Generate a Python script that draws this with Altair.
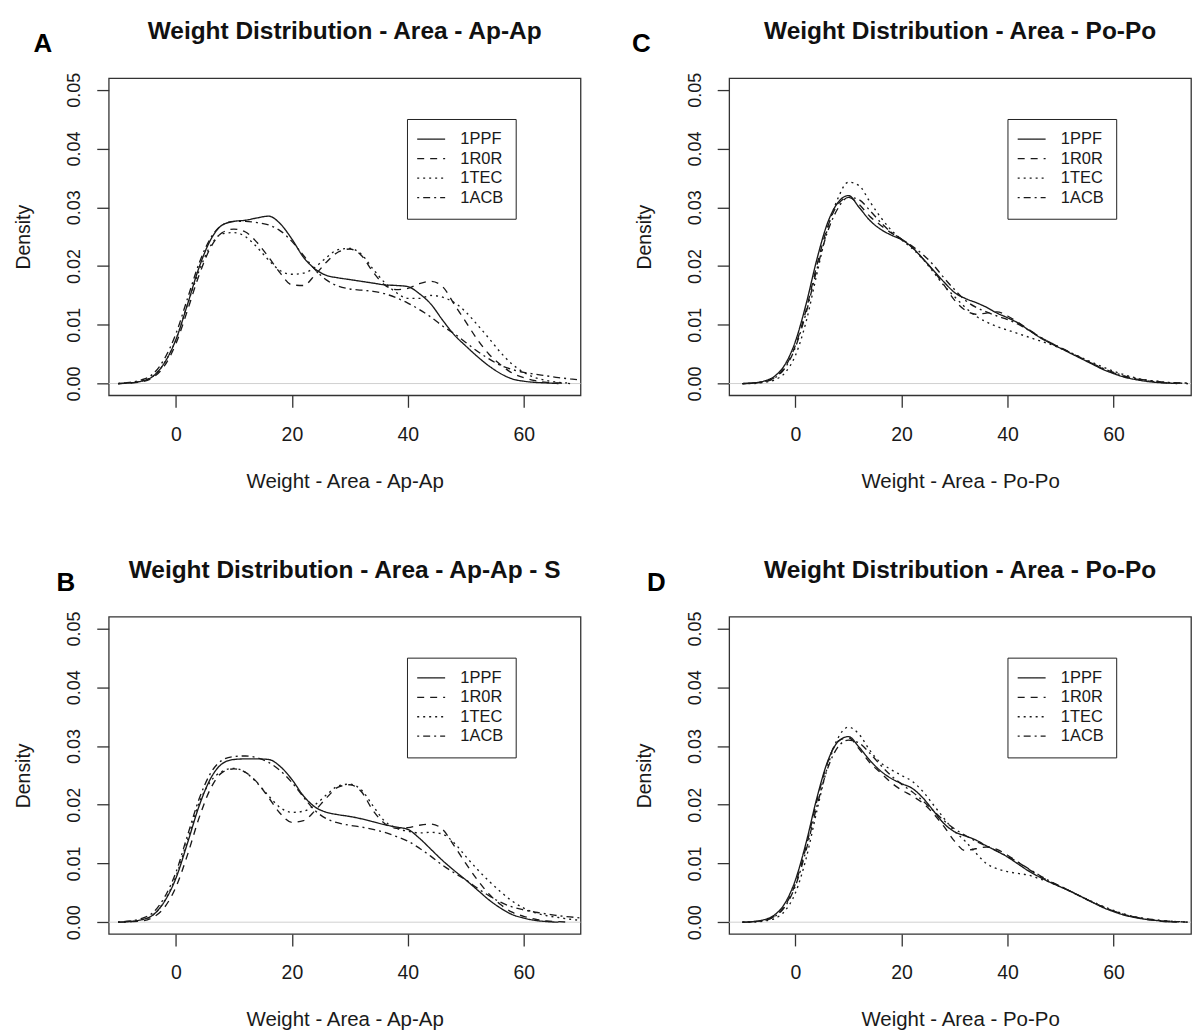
import altair as alt
import pandas as pd

SERIES = ["1PPF", "1R0R", "1TEC", "1ACB"]
DASHES = [[1, 0], [7, 6], [2, 4], [2, 4, 7, 4]]

X_TICKS = [0, 20, 40, 60]
Y_TICKS = [0.0, 0.01, 0.02, 0.03, 0.04, 0.05]

# ---------- Panels A / B (Ap-Ap) ----------
X_AB = [-10, -8, -6, -4, -2, 0, 2, 4, 6, 8,
        10, 12, 14, 16, 18, 20, 22, 24, 26, 28,
        30, 32, 34, 36, 38, 40, 42, 44, 46, 48,
        50, 52, 54, 56, 58, 60, 62, 64, 66, 68, 70]

A_1PPF = [0.0000, 0.0001, 0.0004, 0.0012, 0.0035, 0.0075, 0.0135, 0.0198, 0.0245, 0.0270,
          0.0276, 0.0278, 0.0282, 0.0285, 0.0272, 0.0246, 0.0215, 0.0195, 0.0184, 0.0180,
          0.0177, 0.0174, 0.0171, 0.0168, 0.0167, 0.0165, 0.0153, 0.0135, 0.0108, 0.0083,
          0.0064, 0.0046, 0.0030, 0.0017, 0.0008, 0.0004, 0.0002, 0.0001, 0.0000, None, None]
A_1R0R = [0.0000, 0.0001, 0.0003, 0.0010, 0.0030, 0.0068, 0.0125, 0.0185, 0.0232, 0.0257,
          0.0263, 0.0258, 0.0240, 0.0215, 0.0188, 0.0168, 0.0167, 0.0185, 0.0207, 0.0224,
          0.0229, 0.0218, 0.0190, 0.0168, 0.0160, 0.0162, 0.0170, 0.0174, 0.0165, 0.0135,
          0.0105, 0.0075, 0.0050, 0.0032, 0.0018, 0.0010, 0.0005, 0.0002, 0.0001, 0.0000, None]
A_1TEC = [0.0000, 0.0001, 0.0004, 0.0012, 0.0035, 0.0075, 0.0135, 0.0192, 0.0235, 0.0255,
          0.0257, 0.0250, 0.0232, 0.0210, 0.0192, 0.0186, 0.0188, 0.0198, 0.0215, 0.0228,
          0.0230, 0.0220, 0.0195, 0.0172, 0.0155, 0.0145, 0.0145, 0.0150, 0.0147, 0.0138,
          0.0122, 0.0100, 0.0077, 0.0053, 0.0033, 0.0019, 0.0010, 0.0005, 0.0002, 0.0001, None]
A_1ACB = [0.0000, 0.0002, 0.0006, 0.0016, 0.0042, 0.0085, 0.0145, 0.0205, 0.0248, 0.0270,
          0.0276, 0.0276, 0.0274, 0.0270, 0.0260, 0.0242, 0.0218, 0.0194, 0.0176, 0.0166,
          0.0161, 0.0159, 0.0157, 0.0153, 0.0146, 0.0137, 0.0126, 0.0113, 0.0098, 0.0085,
          0.0070, 0.0055, 0.0042, 0.0031, 0.0024, 0.0019, 0.0016, 0.0013, 0.0010, 0.0008, 0.0006]

B_1PPF = [0.0000, 0.0001, 0.0004, 0.0012, 0.0035, 0.0075, 0.0135, 0.0198, 0.0245, 0.0270,
          0.0277, 0.0278, 0.0278, 0.0277, 0.0265, 0.0243, 0.0215, 0.0196, 0.0187, 0.0183,
          0.0180, 0.0176, 0.0171, 0.0166, 0.0162, 0.0158, 0.0143, 0.0124, 0.0105, 0.0088,
          0.0072, 0.0055, 0.0038, 0.0024, 0.0013, 0.0007, 0.0003, 0.0001, 0.0000, None, None]
B_1R0R = [0.0000, 0.0001, 0.0002, 0.0008, 0.0025, 0.0060, 0.0115, 0.0178, 0.0228, 0.0255,
          0.0261, 0.0255, 0.0238, 0.0212, 0.0185, 0.0170, 0.0173, 0.0190, 0.0212, 0.0230,
          0.0234, 0.0222, 0.0190, 0.0168, 0.0160, 0.0161, 0.0165, 0.0167, 0.0158, 0.0130,
          0.0100, 0.0072, 0.0048, 0.0030, 0.0017, 0.0010, 0.0005, 0.0002, 0.0001, 0.0000, None]
B_1TEC = [0.0000, 0.0001, 0.0004, 0.0012, 0.0036, 0.0078, 0.0140, 0.0203, 0.0240, 0.0257,
          0.0262, 0.0255, 0.0237, 0.0215, 0.0195, 0.0187, 0.0189, 0.0200, 0.0217, 0.0232,
          0.0235, 0.0225, 0.0198, 0.0172, 0.0160, 0.0155, 0.0152, 0.0153, 0.0150, 0.0135,
          0.0112, 0.0090, 0.0070, 0.0052, 0.0036, 0.0024, 0.0016, 0.0011, 0.0008, 0.0005, 0.0003]
B_1ACB = [0.0000, 0.0002, 0.0006, 0.0016, 0.0042, 0.0085, 0.0148, 0.0210, 0.0254, 0.0276,
          0.0282, 0.0283, 0.0280, 0.0272, 0.0258, 0.0238, 0.0213, 0.0190, 0.0176, 0.0169,
          0.0165, 0.0162, 0.0158, 0.0153, 0.0146, 0.0138, 0.0126, 0.0112, 0.0097, 0.0084,
          0.0072, 0.0058, 0.0045, 0.0034, 0.0026, 0.0021, 0.0017, 0.0014, 0.0011, 0.0009, 0.0007]

# ---------- Panels C / D (Po-Po) ----------
X_CD = [-10, -8, -6, -4, -2, 0, 2, 4, 6, 8,
        10, 12, 14, 16, 18, 20, 22, 24, 26, 28,
        30, 32, 34, 36, 38, 40, 42, 44, 46, 48,
        50, 52, 54, 56, 58, 60, 62, 64, 66, 68,
        70, 72, 74]

C_1PPF = [0.0000, 0.0001, 0.0004, 0.0012, 0.0032, 0.0072, 0.0135, 0.0210, 0.0272, 0.0308,
          0.0320, 0.0300, 0.0278, 0.0263, 0.0253, 0.0245, 0.0232, 0.0213, 0.0193, 0.0173,
          0.0155, 0.0145, 0.0138, 0.0130, 0.0120, 0.0112, 0.0103, 0.0091, 0.0079, 0.0069,
          0.0060, 0.0051, 0.0042, 0.0033, 0.0024, 0.0017, 0.0011, 0.0007, 0.0004, 0.0002,
          0.0001, 0.0000, None]
C_1R0R = [0.0000, 0.0001, 0.0003, 0.0010, 0.0028, 0.0065, 0.0125, 0.0200, 0.0265, 0.0305,
          0.0317, 0.0305, 0.0285, 0.0270, 0.0257, 0.0246, 0.0232, 0.0213, 0.0192, 0.0168,
          0.0142, 0.0125, 0.0118, 0.0120, 0.0122, 0.0115, 0.0104, 0.0092, 0.0080, 0.0070,
          0.0061, 0.0052, 0.0043, 0.0034, 0.0025, 0.0018, 0.0012, 0.0008, 0.0005, 0.0003,
          0.0001, 0.0001, 0.0000]
C_1TEC = [0.0000, 0.0000, 0.0002, 0.0006, 0.0018, 0.0048, 0.0105, 0.0185, 0.0262, 0.0315,
          0.0343, 0.0337, 0.0310, 0.0284, 0.0262, 0.0245, 0.0230, 0.0212, 0.0190, 0.0167,
          0.0148, 0.0130, 0.0115, 0.0105, 0.0097, 0.0091, 0.0085, 0.0079, 0.0073, 0.0067,
          0.0060, 0.0052, 0.0044, 0.0036, 0.0028, 0.0021, 0.0015, 0.0010, 0.0006, 0.0004,
          0.0002, 0.0001, 0.0000]
C_1ACB = [0.0000, 0.0001, 0.0003, 0.0009, 0.0026, 0.0062, 0.0120, 0.0193, 0.0257, 0.0298,
          0.0317, 0.0313, 0.0295, 0.0275, 0.0258, 0.0246, 0.0234, 0.0220, 0.0202, 0.0180,
          0.0160, 0.0142, 0.0130, 0.0122, 0.0115, 0.0109, 0.0101, 0.0091, 0.0080, 0.0070,
          0.0061, 0.0052, 0.0043, 0.0034, 0.0026, 0.0019, 0.0013, 0.0009, 0.0006, 0.0004,
          0.0002, 0.0001, 0.0001]

D_1PPF = [0.0000, 0.0001, 0.0004, 0.0012, 0.0032, 0.0072, 0.0135, 0.0210, 0.0272, 0.0307,
          0.0316, 0.0298, 0.0276, 0.0258, 0.0245, 0.0236, 0.0228, 0.0212, 0.0190, 0.0168,
          0.0154, 0.0147, 0.0140, 0.0130, 0.0121, 0.0111, 0.0099, 0.0087, 0.0077, 0.0068,
          0.0060, 0.0052, 0.0043, 0.0034, 0.0025, 0.0018, 0.0012, 0.0008, 0.0005, 0.0003,
          0.0001, 0.0000, None]
D_1R0R = [0.0000, 0.0001, 0.0003, 0.0010, 0.0028, 0.0066, 0.0128, 0.0205, 0.0270, 0.0308,
          0.0314, 0.0295, 0.0272, 0.0255, 0.0238, 0.0225, 0.0215, 0.0203, 0.0185, 0.0163,
          0.0138, 0.0122, 0.0125, 0.0128, 0.0124, 0.0114, 0.0102, 0.0090, 0.0079, 0.0069,
          0.0061, 0.0052, 0.0043, 0.0034, 0.0026, 0.0019, 0.0013, 0.0009, 0.0005, 0.0003,
          0.0001, 0.0001, 0.0000]
D_1TEC = [0.0000, 0.0000, 0.0002, 0.0006, 0.0019, 0.0050, 0.0108, 0.0188, 0.0263, 0.0313,
          0.0332, 0.0320, 0.0293, 0.0272, 0.0260, 0.0250, 0.0240, 0.0223, 0.0200, 0.0177,
          0.0155, 0.0138, 0.0118, 0.0100, 0.0091, 0.0086, 0.0083, 0.0080, 0.0074, 0.0068,
          0.0060, 0.0052, 0.0043, 0.0035, 0.0027, 0.0020, 0.0014, 0.0009, 0.0006, 0.0003,
          0.0002, 0.0001, 0.0000]
D_1ACB = [0.0000, 0.0001, 0.0003, 0.0009, 0.0026, 0.0062, 0.0122, 0.0196, 0.0260, 0.0298,
          0.0310, 0.0305, 0.0288, 0.0268, 0.0250, 0.0235, 0.0222, 0.0207, 0.0190, 0.0173,
          0.0159, 0.0148, 0.0138, 0.0130, 0.0121, 0.0112, 0.0102, 0.0091, 0.0080, 0.0070,
          0.0061, 0.0052, 0.0043, 0.0034, 0.0026, 0.0019, 0.0013, 0.0009, 0.0006, 0.0004,
          0.0002, 0.0001, 0.0000]

FONT = "Liberation Sans, Arial, Helvetica, sans-serif"
INK = "#1a1a1a"


def long_df(xs, curves):
    rows = []
    for name, vals in zip(SERIES, curves):
        for x, v in zip(xs, vals):
            if v is not None:
                rows.append({"x": x, "density": v, "series": name})
    return pd.DataFrame(rows)


def panel(xs, curves, title, letter, xlabel, xdom, width, height, letter_dx):
    df = long_df(xs, curves)
    legend = alt.Legend(
        orient="none", legendX=299 if width > 470 else 279, legendY=41, title=None,
        direction="vertical", symbolType="M-2,0H2", symbolSize=196, symbolOffset=4,
        symbolStrokeWidth=1.3, symbolStrokeColor=INK, symbolFillColor="transparent",
        labelFont=FONT, labelFontSize=16.5, labelColor=INK, labelOffset=21,
        rowPadding=2.5, padding=12, strokeColor="#222", fillColor="white",
    )
    xaxis = alt.Axis(
        values=X_TICKS, format="d", title=xlabel, titleX=width / 2, titleY=92,
        titleAlign="center", titleBaseline="alphabetic", labelBaseline="alphabetic",
        labelPadding=33, labelOverlap=False, labelFontSize=19.5, titleFontSize=20.5,
    )
    yaxis = alt.Axis(
        values=Y_TICKS, format=".2f", title="Density", titleX=-79, titleY=height / 2,
        titleAngle=270, titleAlign="center", titleBaseline="alphabetic",
        labelAngle=270, labelAlign="center", labelBaseline="alphabetic",
        labelPadding=17, labelOverlap=False, labelFontSize=18, titleFontSize=19.5,
    )
    lines = alt.Chart(df).mark_line(
        strokeWidth=1.35, color=INK, interpolate="monotone", clip=True
    ).encode(
        x=alt.X("x:Q", scale=alt.Scale(domain=xdom, nice=False, zero=False), axis=xaxis),
        y=alt.Y("density:Q", scale=alt.Scale(domain=[-0.002, 0.052], nice=False, zero=False), axis=yaxis),
        strokeDash=alt.StrokeDash("series:N", scale=alt.Scale(domain=SERIES, range=DASHES), legend=legend),
    )
    zero = alt.Chart(pd.DataFrame({"z": [0]})).mark_rule(color="#d0d0d0", strokeWidth=1).encode(
        y=alt.datum(0)
    )
    ttl = alt.Chart(pd.DataFrame({"t": [title]})).mark_text(
        font=FONT, fontSize=24.5, fontWeight="bold", color="#111", align="center", baseline="alphabetic"
    ).encode(text="t:N", x=alt.value(width / 2), y=alt.value(-39))
    let = alt.Chart(pd.DataFrame({"t": [letter]})).mark_text(
        font=FONT, fontSize=26, fontWeight="bold", color="#000", align="center", baseline="alphabetic"
    ).encode(text="t:N", x=alt.value(letter_dx), y=alt.value(-26))
    return alt.layer(zero, lines, ttl, let).properties(width=width, height=height)


pA = panel(X_AB, [A_1PPF, A_1R0R, A_1TEC, A_1ACB], "Weight Distribution - Area - Ap-Ap", "A",
           "Weight - Area - Ap-Ap", [-11.6, 69.8], 473, 318, -66)
pB = panel(X_AB, [B_1PPF, B_1R0R, B_1TEC, B_1ACB], "Weight Distribution - Area - Ap-Ap - S", "B",
           "Weight - Area - Ap-Ap", [-11.6, 69.8], 473, 318, -43)
pC = panel(X_CD, [C_1PPF, C_1R0R, C_1TEC, C_1ACB], "Weight Distribution - Area - Po-Po", "C",
           "Weight - Area - Po-Po", [-12.5, 74.6], 463, 318, -88)
pD = panel(X_CD, [D_1PPF, D_1R0R, D_1TEC, D_1ACB], "Weight Distribution - Area - Po-Po", "D",
           "Weight - Area - Po-Po", [-12.5, 74.6], 463, 318, -73)

top = alt.hconcat(pA, pC, spacing=149, bounds="flush").resolve_scale(
    x="independent", y="independent", strokeDash="independent").resolve_legend(strokeDash="independent")
bottom = alt.hconcat(pB, pD, spacing=149, bounds="flush").resolve_scale(
    x="independent", y="independent", strokeDash="independent").resolve_legend(strokeDash="independent")

chart = alt.vconcat(top, bottom, spacing=540, bounds="flush").resolve_scale(
    x="independent", y="independent", strokeDash="independent"
).resolve_legend(strokeDash="independent").properties(
    padding={"left": 13, "top": 17, "right": 0, "bottom": 0},
    background="white",
).configure_view(
    stroke="#333", strokeWidth=1.3
).configure_axis(
    labelFont=FONT, labelColor=INK,
    titleFont=FONT, titleFontWeight="normal", titleColor=INK,
    tickSize=12, tickColor="#333", tickWidth=1.3, domain=False, grid=False,
)

chart.save("out.html", embed_options={"renderer": "svg", "actions": False})
